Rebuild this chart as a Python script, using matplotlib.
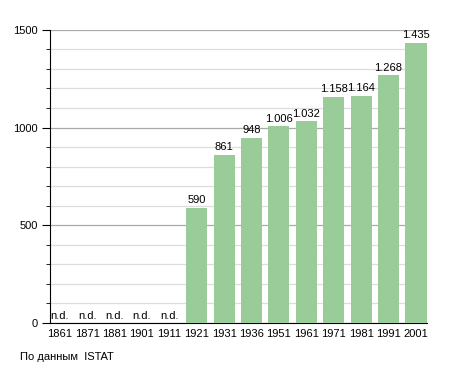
import numpy as np
import matplotlib
matplotlib.use('Agg')
import matplotlib.pyplot as plt
from matplotlib.ticker import MultipleLocator

years = ['1861', '1871', '1881', '1901', '1911', '1921', '1931', '1936',
         '1951', '1961', '1971', '1981', '1991', '2001']
population = [None, None, None, None, None, 590, 861, 948,
              1006, 1032, 1158, 1164, 1268, 1435]
value_labels = ['n.d.', 'n.d.', 'n.d.', 'n.d.', 'n.d.', '590', '861', '948',
                '1.006', '1.032', '1.158', '1.164', '1.268', '1.435']

plt.rcParams['font.family'] = ['Liberation Sans', 'DejaVu Sans']

fig = plt.figure(figsize=(4.55, 3.73), dpi=100)
ax = fig.add_axes([0.110, 0.134, 0.829, 0.786])

x = np.arange(len(years))
heights = [v if v is not None else 0 for v in population]
ax.bar(x, heights, width=0.77, color='#99cc99', zorder=3)

# etichette sopra le barre (n.d. dove manca il dato)
for xi, v, lab in zip(x, population, value_labels):
    y = v if v is not None else 0
    ax.text(xi, y + 12, lab, ha='center', va='bottom', fontsize=8)

ax.set_xlim(-0.35, 13.41)
ax.set_ylim(0, 1500)
ax.yaxis.set_major_locator(MultipleLocator(500))
ax.yaxis.set_minor_locator(MultipleLocator(100))
ax.grid(axis='y', which='major', color='#aaaaaa', linewidth=0.9, zorder=0)
ax.grid(axis='y', which='minor', color='#dddddd', linewidth=0.9, zorder=0)

ax.set_xticks(x)
ax.set_xticklabels(years)
ax.tick_params(axis='x', length=0, labelsize=8, pad=4)
ax.tick_params(axis='y', which='major', length=6, labelsize=8, pad=3)
ax.tick_params(axis='y', which='minor', length=3)

for s in ['top', 'right']:
    ax.spines[s].set_visible(False)

fig.text(20 / 455, 1 - 357 / 373, 'По данным  ISTAT', fontsize=8, va='center')

plt.savefig('out.png', dpi=100)
